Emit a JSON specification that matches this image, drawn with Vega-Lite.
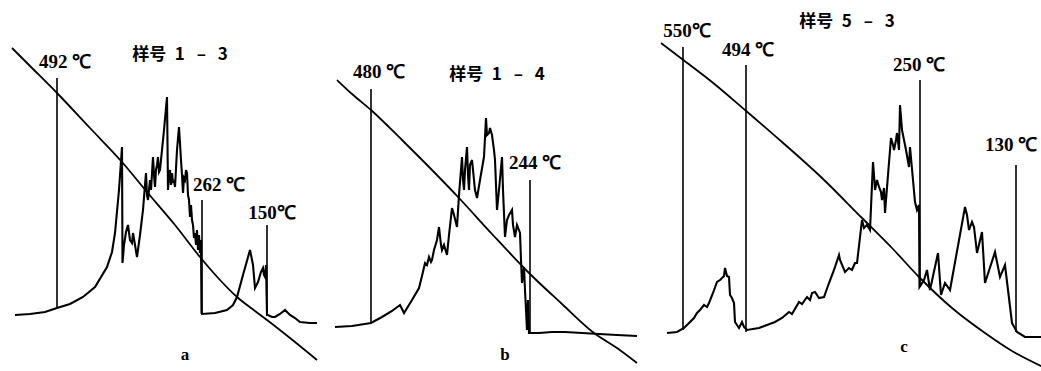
{
"$schema": "https://vega.github.io/schema/vega-lite/v6.json",
"background": "white",
"padding": 0,
"spacing": 0,
"config": {"view": {"stroke": null}},
"datasets": {
"sigA": [
{"t":15,"v":56},{"t":30,"v":57},{"t":45,"v":59},{"t":57,"v":63},{"t":70,"v":67},{"t":83,"v":74},{"t":95,"v":84},{"t":107,"v":104},{"t":112,"v":119},{"t":115,"v":138},{"t":119,"v":181},{"t":122,"v":224},{"t":122.5,"v":108},{"t":124,"v":126},{"t":126,"v":139},{"t":128,"v":146},{"t":130,"v":131},{"t":132,"v":128},{"t":133,"v":138},{"t":135,"v":126},{"t":137,"v":114},{"t":140,"v":136},{"t":143,"v":161},{"t":145,"v":186},{"t":146,"v":198},{"t":147,"v":176},{"t":148,"v":171},{"t":150,"v":191},{"t":151,"v":181},{"t":153,"v":214},{"t":154,"v":196},{"t":155,"v":184},{"t":156,"v":201},{"t":157,"v":206},{"t":158,"v":214},{"t":159,"v":199},{"t":160,"v":201},{"t":161,"v":211},{"t":162,"v":221},{"t":164,"v":241},{"t":167,"v":274},{"t":168,"v":181},{"t":169,"v":196},{"t":170,"v":201},{"t":171,"v":186},{"t":172,"v":198},{"t":173,"v":188},{"t":174,"v":191},{"t":175,"v":184},{"t":177,"v":221},{"t":179,"v":244},{"t":181,"v":211},{"t":182,"v":196},{"t":183,"v":178},{"t":184,"v":193},{"t":185,"v":191},{"t":186,"v":201},{"t":187,"v":198},{"t":188,"v":176},{"t":189,"v":171},{"t":190,"v":154},{"t":191,"v":166},{"t":192,"v":151},{"t":193,"v":146},{"t":194,"v":133},{"t":195,"v":138},{"t":196,"v":126},{"t":197,"v":141},{"t":198,"v":121},{"t":199,"v":136},{"t":200,"v":118},{"t":201,"v":131},{"t":201.5,"v":58},{"t":202,"v":57},{"t":215,"v":58},{"t":227,"v":61},{"t":233,"v":66},{"t":237,"v":74},{"t":243,"v":96},{"t":250,"v":121},{"t":253,"v":106},{"t":255,"v":83},{"t":258,"v":89},{"t":261,"v":99},{"t":263,"v":103},{"t":264,"v":96},{"t":265,"v":94},{"t":266,"v":106},{"t":267,"v":56},{"t":268,"v":56},{"t":272,"v":54},{"t":275,"v":54},{"t":280,"v":57},{"t":285,"v":61},{"t":288,"v":58},{"t":290,"v":56},{"t":295,"v":53},{"t":300,"v":49},{"t":310,"v":48},{"t":317,"v":48}
],
"tempA": [
{"t":12,"v":323},{"t":30,"v":305},{"t":57,"v":278},{"t":90,"v":243},{"t":122,"v":209},{"t":147,"v":179},{"t":175,"v":146},{"t":200,"v":114},{"t":220,"v":91},{"t":237,"v":74},{"t":255,"v":60},{"t":267,"v":51},{"t":290,"v":33},{"t":317,"v":11}
],
"markA": [
{"t":57,"v0":63,"v1":293,"label":"492 ℃","lt":65,"lv":309},
{"t":202,"v0":58,"v1":171,"label":"262 ℃","lt":219,"lv":186},
{"t":267,"v0":56,"v1":146,"label":"150℃","lt":272,"lv":158}
],
"titleA": [{"t":180,"v":316,"text":"样号\u20021\u2002\u2009–\u2002\u20093"}],
"letterA": [{"t":185,"v":16,"text":"a"}],
"sigB": [
{"t":3,"v":44},{"t":20,"v":45},{"t":39,"v":48},{"t":50,"v":54},{"t":60,"v":60},{"t":68,"v":66},{"t":70,"v":62},{"t":72,"v":58},{"t":80,"v":71},{"t":87,"v":83},{"t":90,"v":95},{"t":93,"v":108},{"t":95,"v":106},{"t":97,"v":114},{"t":99,"v":109},{"t":100,"v":111},{"t":102,"v":121},{"t":105,"v":131},{"t":107,"v":144},{"t":109,"v":126},{"t":110,"v":121},{"t":112,"v":126},{"t":115,"v":116},{"t":117,"v":136},{"t":120,"v":163},{"t":122,"v":156},{"t":125,"v":144},{"t":127,"v":176},{"t":130,"v":214},{"t":131,"v":191},{"t":132,"v":181},{"t":133,"v":201},{"t":135,"v":224},{"t":136,"v":196},{"t":137,"v":181},{"t":138,"v":206},{"t":140,"v":211},{"t":142,"v":191},{"t":143,"v":181},{"t":145,"v":173},{"t":148,"v":191},{"t":152,"v":214},{"t":154,"v":253},{"t":155,"v":236},{"t":157,"v":238},{"t":158,"v":243},{"t":160,"v":236},{"t":162,"v":221},{"t":163,"v":211},{"t":165,"v":161},{"t":167,"v":181},{"t":170,"v":214},{"t":171,"v":181},{"t":173,"v":134},{"t":175,"v":151},{"t":177,"v":156},{"t":180,"v":161},{"t":181,"v":146},{"t":183,"v":134},{"t":185,"v":146},{"t":188,"v":138},{"t":189,"v":111},{"t":190,"v":88},{"t":192,"v":104},{"t":193,"v":81},{"t":195,"v":41},{"t":196,"v":71},{"t":197,"v":38},{"t":207,"v":38},{"t":220,"v":39},{"t":233,"v":39},{"t":250,"v":38},{"t":267,"v":37},{"t":285,"v":36},{"t":305,"v":35}
],
"tempB": [
{"t":5,"v":291},{"t":20,"v":277},{"t":39,"v":261},{"t":70,"v":231},{"t":100,"v":201},{"t":127,"v":173},{"t":160,"v":137},{"t":197,"v":98},{"t":230,"v":67},{"t":262,"v":38},{"t":285,"v":23},{"t":305,"v":8}
],
"markB": [
{"t":39,"v0":48,"v1":282,"label":"480 ℃","lt":47,"lv":299},
{"t":198,"v0":38,"v1":191,"label":"244 ℃","lt":203,"lv":208}
],
"titleB": [{"t":165,"v":296,"text":"样号\u20021\u2002\u2009–\u2002\u20094"}],
"letterB": [{"t":173,"v":16,"text":"b"}],
"sigC": [
{"t":15,"v":38},{"t":25,"v":39},{"t":32,"v":43},{"t":38,"v":49},{"t":42,"v":53},{"t":45,"v":58},{"t":48,"v":61},{"t":52,"v":66},{"t":55,"v":64},{"t":57,"v":68},{"t":61,"v":78},{"t":65,"v":89},{"t":68,"v":91},{"t":70,"v":93},{"t":72,"v":95},{"t":73,"v":103},{"t":75,"v":95},{"t":77,"v":94},{"t":78,"v":76},{"t":80,"v":73},{"t":82,"v":68},{"t":83,"v":49},{"t":87,"v":43},{"t":90,"v":49},{"t":92,"v":44},{"t":95,"v":41},{"t":107,"v":43},{"t":115,"v":46},{"t":123,"v":49},{"t":130,"v":53},{"t":137,"v":59},{"t":140,"v":57},{"t":147,"v":69},{"t":150,"v":67},{"t":155,"v":74},{"t":158,"v":71},{"t":160,"v":78},{"t":163,"v":79},{"t":167,"v":73},{"t":172,"v":74},{"t":177,"v":88},{"t":182,"v":101},{"t":187,"v":116},{"t":188,"v":111},{"t":193,"v":99},{"t":197,"v":103},{"t":200,"v":101},{"t":203,"v":108},{"t":205,"v":108},{"t":210,"v":151},{"t":212,"v":143},{"t":215,"v":146},{"t":218,"v":141},{"t":221,"v":209},{"t":222,"v":196},{"t":223,"v":181},{"t":225,"v":191},{"t":227,"v":184},{"t":229,"v":179},{"t":230,"v":171},{"t":232,"v":183},{"t":233,"v":158},{"t":236,"v":196},{"t":239,"v":233},{"t":241,"v":226},{"t":242,"v":221},{"t":244,"v":231},{"t":245,"v":238},{"t":247,"v":221},{"t":248,"v":266},{"t":250,"v":241},{"t":252,"v":231},{"t":254,"v":221},{"t":257,"v":204},{"t":258,"v":224},{"t":261,"v":191},{"t":263,"v":169},{"t":265,"v":161},{"t":267,"v":166},{"t":267.5,"v":84},{"t":272,"v":91},{"t":275,"v":101},{"t":278,"v":81},{"t":286,"v":118},{"t":289,"v":76},{"t":293,"v":88},{"t":298,"v":81},{"t":313,"v":164},{"t":315,"v":156},{"t":317,"v":141},{"t":320,"v":149},{"t":322,"v":144},{"t":325,"v":118},{"t":330,"v":139},{"t":333,"v":88},{"t":343,"v":119},{"t":348,"v":94},{"t":353,"v":106},{"t":356,"v":81},{"t":360,"v":48},{"t":365,"v":39},{"t":373,"v":34},{"t":391,"v":34}
],
"tempC": [
{"t":9,"v":328},{"t":30,"v":312},{"t":60,"v":289},{"t":93,"v":261},{"t":130,"v":229},{"t":170,"v":193},{"t":210,"v":153},{"t":240,"v":123},{"t":267,"v":94},{"t":300,"v":63},{"t":333,"v":38},{"t":360,"v":20},{"t":391,"v":4}
],
"markC": [
{"t":31,"v0":41,"v1":324,"label":"550℃","lt":35,"lv":340},
{"t":94,"v0":39,"v1":306,"label":"494 ℃","lt":96,"lv":321},
{"t":268,"v0":84,"v1":291,"label":"250 ℃","lt":267,"lv":306},
{"t":364,"v0":39,"v1":206,"label":"130 ℃","lt":359,"lv":226}
],
"titleC": [{"t":195,"v":349,"text":"样号\u20025\u2002\u2009–\u2002\u20093"}],
"letterC": [{"t":252,"v":24,"text":"c"}]
},
"hconcat": [
{
"width": 330, "height": 371,
"layer": [
{"data":{"name":"tempA"},"mark":{"type":"line","color":"black","strokeWidth":1.8,"interpolate":"monotone"},
 "encoding":{"x":{"field":"t","type":"quantitative","scale":{"domain":[0,330],"nice":false,"zero":false},"axis":null},"y":{"field":"v","type":"quantitative","scale":{"domain":[0,371],"nice":false,"zero":false},"axis":null}}},
{"data":{"name":"sigA"},"mark":{"type":"line","color":"black","strokeWidth":2.1},
 "encoding":{"x":{"field":"t","type":"quantitative"},"y":{"field":"v","type":"quantitative"}}},
{"data":{"name":"markA"},"mark":{"type":"rule","color":"black","strokeWidth":1.6},
 "encoding":{"x":{"field":"t","type":"quantitative"},"y":{"field":"v0","type":"quantitative"},"y2":{"field":"v1"}}},
{"data":{"name":"markA"},"mark":{"type":"text","font":"Liberation Serif","fontWeight":"bold","fontSize":19,"align":"center","baseline":"middle","color":"black"},
 "encoding":{"x":{"field":"lt","type":"quantitative"},"y":{"field":"lv","type":"quantitative"},"text":{"field":"label"}}},
{"data":{"name":"titleA"},"mark":{"type":"text","font":"Noto Sans CJK SC","fontWeight":"bold","fontSize":17,"align":"center","baseline":"middle","color":"black"},
 "encoding":{"x":{"field":"t","type":"quantitative"},"y":{"field":"v","type":"quantitative"},"text":{"field":"text"}}},
{"data":{"name":"letterA"},"mark":{"type":"text","font":"Liberation Serif","fontWeight":"bold","fontSize":17,"align":"center","baseline":"middle","color":"black"},
 "encoding":{"x":{"field":"t","type":"quantitative"},"y":{"field":"v","type":"quantitative"},"text":{"field":"text"}}}
]
},
{
"width": 320, "height": 371,
"layer": [
{"data":{"name":"tempB"},"mark":{"type":"line","color":"black","strokeWidth":1.8,"interpolate":"monotone"},
 "encoding":{"x":{"field":"t","type":"quantitative","scale":{"domain":[0,320],"nice":false,"zero":false},"axis":null},"y":{"field":"v","type":"quantitative","scale":{"domain":[0,371],"nice":false,"zero":false},"axis":null}}},
{"data":{"name":"sigB"},"mark":{"type":"line","color":"black","strokeWidth":2.1},
 "encoding":{"x":{"field":"t","type":"quantitative"},"y":{"field":"v","type":"quantitative"}}},
{"data":{"name":"markB"},"mark":{"type":"rule","color":"black","strokeWidth":1.6},
 "encoding":{"x":{"field":"t","type":"quantitative"},"y":{"field":"v0","type":"quantitative"},"y2":{"field":"v1"}}},
{"data":{"name":"markB"},"mark":{"type":"text","font":"Liberation Serif","fontWeight":"bold","fontSize":19,"align":"center","baseline":"middle","color":"black"},
 "encoding":{"x":{"field":"lt","type":"quantitative"},"y":{"field":"lv","type":"quantitative"},"text":{"field":"label"}}},
{"data":{"name":"titleB"},"mark":{"type":"text","font":"Noto Sans CJK SC","fontWeight":"bold","fontSize":17,"align":"center","baseline":"middle","color":"black"},
 "encoding":{"x":{"field":"t","type":"quantitative"},"y":{"field":"v","type":"quantitative"},"text":{"field":"text"}}},
{"data":{"name":"letterB"},"mark":{"type":"text","font":"Liberation Serif","fontWeight":"bold","fontSize":17,"align":"center","baseline":"middle","color":"black"},
 "encoding":{"x":{"field":"t","type":"quantitative"},"y":{"field":"v","type":"quantitative"},"text":{"field":"text"}}}
]
},
{
"width": 391, "height": 371,
"layer": [
{"data":{"name":"tempC"},"mark":{"type":"line","color":"black","strokeWidth":1.8,"interpolate":"monotone"},
 "encoding":{"x":{"field":"t","type":"quantitative","scale":{"domain":[0,391],"nice":false,"zero":false},"axis":null},"y":{"field":"v","type":"quantitative","scale":{"domain":[0,371],"nice":false,"zero":false},"axis":null}}},
{"data":{"name":"sigC"},"mark":{"type":"line","color":"black","strokeWidth":2.1},
 "encoding":{"x":{"field":"t","type":"quantitative"},"y":{"field":"v","type":"quantitative"}}},
{"data":{"name":"markC"},"mark":{"type":"rule","color":"black","strokeWidth":1.6},
 "encoding":{"x":{"field":"t","type":"quantitative"},"y":{"field":"v0","type":"quantitative"},"y2":{"field":"v1"}}},
{"data":{"name":"markC"},"mark":{"type":"text","font":"Liberation Serif","fontWeight":"bold","fontSize":19,"align":"center","baseline":"middle","color":"black"},
 "encoding":{"x":{"field":"lt","type":"quantitative"},"y":{"field":"lv","type":"quantitative"},"text":{"field":"label"}}},
{"data":{"name":"titleC"},"mark":{"type":"text","font":"Noto Sans CJK SC","fontWeight":"bold","fontSize":17,"align":"center","baseline":"middle","color":"black"},
 "encoding":{"x":{"field":"t","type":"quantitative"},"y":{"field":"v","type":"quantitative"},"text":{"field":"text"}}},
{"data":{"name":"letterC"},"mark":{"type":"text","font":"Liberation Serif","fontWeight":"bold","fontSize":17,"align":"center","baseline":"middle","color":"black"},
 "encoding":{"x":{"field":"t","type":"quantitative"},"y":{"field":"v","type":"quantitative"},"text":{"field":"text"}}}
]
}
]
}
